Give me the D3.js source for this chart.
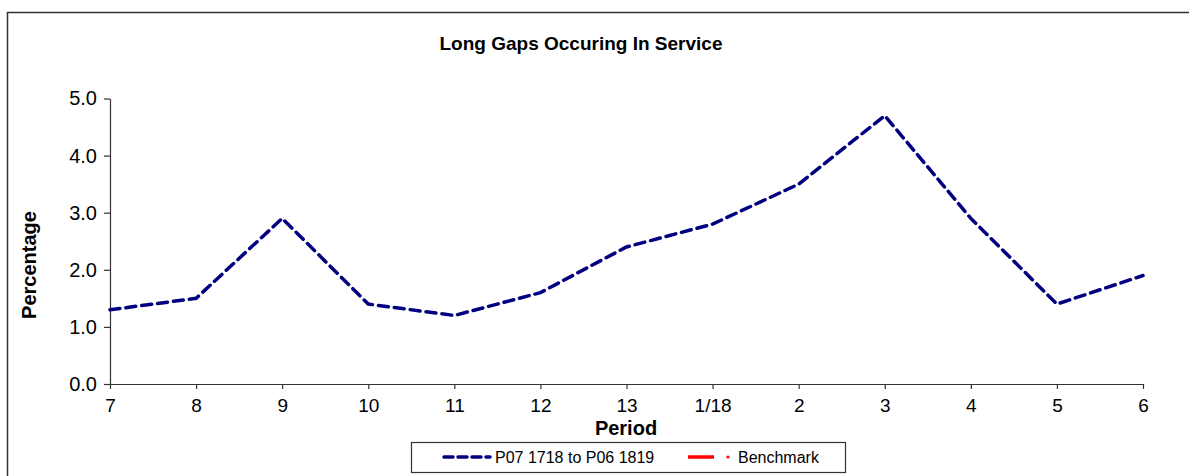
<!DOCTYPE html>
<html>
<head>
<meta charset="utf-8">
<script src="https://cdn.jsdelivr.net/npm/d3@7"></script>
<style>
  body { margin: 0; background: #fff; }
  svg { display: block; font-family: "Liberation Sans", Arial, sans-serif; }
</style>
</head>
<body>
<div id="chart"></div>
<script>
// Chart data
const PERIODS = ["7", "8", "9", "10", "11", "12", "13", "1/18", "2", "3", "4", "5", "6"];
const GAPS = [1.3, 1.5, 2.9, 1.4, 1.2, 1.6, 2.4, 2.8, 3.5, 4.7, 2.9, 1.4, 1.9];
const Y_TICKS = [0, 1, 2, 3, 4, 5];
const SERIES_NAMES = ["P07 1718 to P06 1819", "Benchmark"];

// Constants for layout
const FRAME_WIDTH = 1189;
const FRAME_HEIGHT = 476;
const MARGINS = {left: 110, right: 46, top: 98.5, bottom: 92};
const VIS_WIDTH = FRAME_WIDTH - MARGINS.left - MARGINS.right;
const VIS_HEIGHT = FRAME_HEIGHT - MARGINS.top - MARGINS.bottom;

const FRAME = d3.select("#chart")
                .append("svg")
                  .attr("width", FRAME_WIDTH)
                  .attr("height", FRAME_HEIGHT);

// outer chart border (runs off the right and bottom)
FRAME.append("rect")
      .attr("x", 7.5)
      .attr("y", 12.5)
      .attr("width", 1200)
      .attr("height", 500)
      .attr("fill", "none")
      .attr("stroke", "#333")
      .attr("stroke-width", 1.5);

// Title
FRAME.append("text")
      .attr("x", 581)
      .attr("y", 50)
      .attr("text-anchor", "middle")
      .attr("font-size", "19px")
      .attr("font-weight", "bold")
      .text("Long Gaps Occuring In Service");

const X_SCALE = d3.scalePoint()
                    .domain(PERIODS)
                    .range([0, VIS_WIDTH]);

const Y_SCALE = d3.scaleLinear()
                    .domain([0, 5])
                    .range([VIS_HEIGHT, 0]);

const PLOT = FRAME.append("g")
                   .attr("transform", "translate(" + MARGINS.left + "," + MARGINS.top + ")");

// y axis
const yAxis = PLOT.append("g")
      .call(d3.axisLeft(Y_SCALE)
              .tickValues(Y_TICKS)
              .tickFormat(d3.format(".1f"))
              .tickSize(6)
              .tickSizeOuter(0)
              .tickPadding(7));
yAxis.selectAll("text").attr("font-size", "20px").attr("fill", "#000");

// x axis
const xAxis = PLOT.append("g")
      .attr("transform", "translate(0," + VIS_HEIGHT + ")")
      .call(d3.axisBottom(X_SCALE)
              .tickSize(5)
              .tickSizeOuter(0)
              .tickPadding(10));
xAxis.selectAll("text").attr("font-size", "19px").attr("fill", "#000");

FRAME.selectAll(".domain, .tick line")
      .attr("stroke", "#333")
      .attr("stroke-width", 1.2);

// axis titles
FRAME.append("text")
      .attr("x", 626)
      .attr("y", 435)
      .attr("text-anchor", "middle")
      .attr("font-size", "20px")
      .attr("font-weight", "bold")
      .text("Period");

FRAME.append("text")
      .attr("transform", "translate(36,265) rotate(-90)")
      .attr("text-anchor", "middle")
      .attr("font-size", "20px")
      .attr("font-weight", "bold")
      .text("Percentage");

// the line
const line = d3.line()
                .x((d, i) => X_SCALE(PERIODS[i]))
                .y((d) => Y_SCALE(d));

PLOT.append("path")
      .datum(GAPS)
      .attr("d", line)
      .attr("fill", "none")
      .attr("stroke", "#000080")
      .attr("stroke-width", 3.5)
      .attr("stroke-dasharray", "10,6")
      .attr("stroke-linecap", "round");

// Legend
const LEGEND = FRAME.append("g");
LEGEND.append("rect")
      .attr("x", 411.5)
      .attr("y", 442.5)
      .attr("width", 434)
      .attr("height", 30)
      .attr("fill", "#fff")
      .attr("stroke", "#333")
      .attr("stroke-width", 1.2);

LEGEND.append("line")
      .attr("x1", 444).attr("x2", 490)
      .attr("y1", 457).attr("y2", 457)
      .attr("stroke", "#000080")
      .attr("stroke-width", 3.5)
      .attr("stroke-dasharray", "9,5")
      .attr("stroke-linecap", "round");

LEGEND.append("text")
      .attr("x", 495)
      .attr("y", 463)
      .attr("font-size", "16px")
      .text(SERIES_NAMES[0]);

LEGEND.append("line")
      .attr("x1", 688).attr("x2", 714)
      .attr("y1", 457).attr("y2", 457)
      .attr("stroke", "#ff0000")
      .attr("stroke-width", 3.5);

LEGEND.append("circle")
      .attr("cx", 728)
      .attr("cy", 457)
      .attr("r", 1.6)
      .attr("fill", "#ff0000");

LEGEND.append("text")
      .attr("x", 738)
      .attr("y", 463)
      .attr("font-size", "16px")
      .text(SERIES_NAMES[1]);
</script>
</body>
</html>
